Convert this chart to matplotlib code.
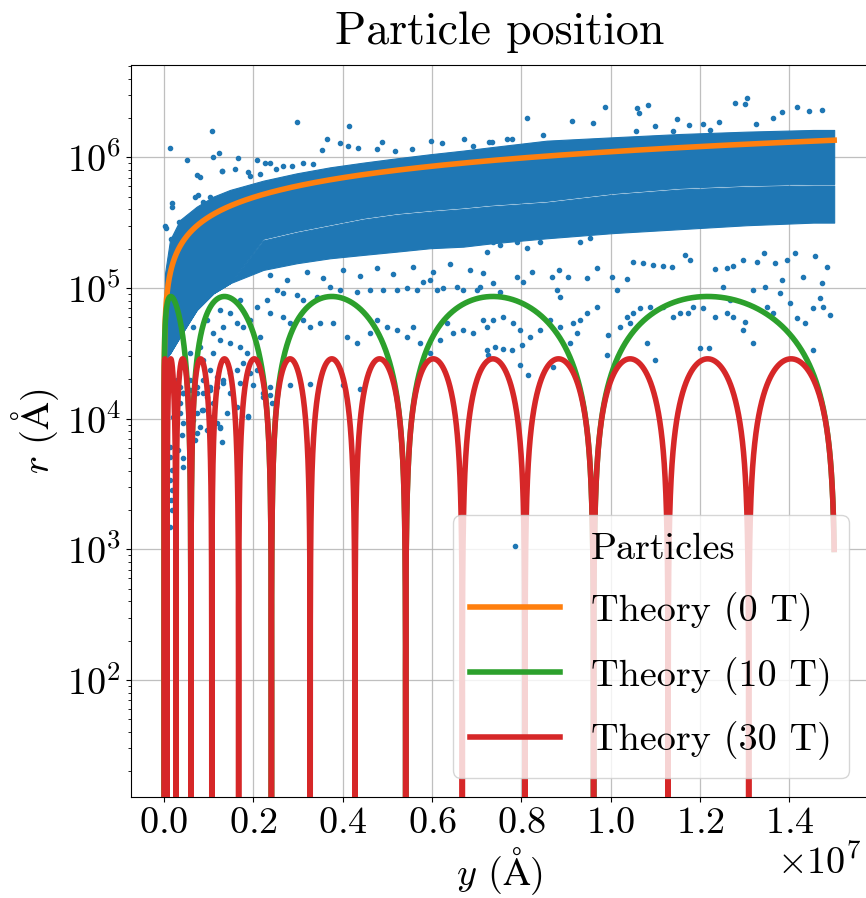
import numpy as np
import matplotlib
matplotlib.use("Agg")
import matplotlib.pyplot as plt

plt.rcParams.update({
    "font.family": "serif",
    "font.serif": ["cmr10"],
    "mathtext.fontset": "cm",
    "axes.formatter.use_mathtext": True,
    "axes.unicode_minus": False,
    "font.size": 27.5,
})

Y_UNIT = 1e7  # y values below are given in units of 1e7 Angstrom

# ---- dense part of the particle cloud (envelopes, log10 r) ----
band_y = [0.0005, 0.0022, 0.0134, 0.0358, 0.0731, 0.1104, 0.1477, 0.2223,
          0.2969, 0.3715, 0.4461, 0.5207, 0.5953, 0.6699, 0.7296, 0.8565,
          1.0057, 1.1549, 1.3041, 1.4533, 1.5]
band_upper_log = [4.75, 5.112, 5.367, 5.520, 5.622, 5.699, 5.750, 5.821,
                  5.877, 5.923, 5.959, 5.992, 6.023, 6.051, 6.076, 6.127,
                  6.153, 6.178, 6.196, 6.209, 6.209]
band_streak_log = [np.nan, np.nan, np.nan, np.nan, np.nan, np.nan, np.nan, 5.37,
                   5.43, 5.48, 5.53, 5.566, 5.59, 5.61, 5.63, 5.66,
                   5.72, 5.76, 5.78, 5.79, 5.79]
band_lower_log = [4.42, 4.45, 4.50, 4.628, 4.832, 4.959, 5.036, 5.138,
                  5.189, 5.227, 5.253, 5.278, 5.304, 5.316, 5.34, 5.38,
                  5.42, 5.45, 5.48, 5.50, 5.50]

# ---- individual (sparse) particles ----
particles_y = [
    0.0134, 0.0522, 0.1067, 0.1089, 0.1238, 0.0731, 0.0806, 0.0172, 0.0172, 0.0022,
    0.0045, 0.0343, 0.0470, 0.0157, 0.2969, 0.4148, 0.3640, 0.3939, 0.3543, 0.4125,
    0.4334, 0.4759, 0.4871, 0.5170, 0.5543, 0.5975, 0.6214, 0.6721, 0.6908, 0.7281,
    0.1663, 0.2074, 0.2260, 0.2372, 0.1589, 0.1291, 0.1887, 0.1925, 0.2148, 0.2499,
    0.2671, 0.2857, 0.3118, 0.3327, 0.0701, 0.0880, 0.1029, 0.0768, 0.1305,
    # below the band, left half
    0.2521, 0.2671, 0.2969, 0.3118, 0.3417, 0.3715, 0.3939, 0.4312, 0.4610, 0.4909,
    0.5207, 0.5431, 0.5655, 0.5804, 0.5953, 0.6102, 0.6251, 0.6550, 0.6699, 0.6997,
    0.7147, 0.2074, 0.2372, 0.2671, 0.2820, 0.3118, 0.3267, 0.3491, 0.3790, 0.4088,
    0.4312, 0.4610, 0.4759, 0.4983, 0.5207, 0.5431, 0.5580, 0.5729, 0.5953, 0.6177,
    0.6326, 0.6475, 0.6699, 0.6923, 0.7147, 0.7221,
    0.2372, 0.2745, 0.3193, 0.3566, 0.4013, 0.4386, 0.4759, 0.5132, 0.5580, 0.6028,
    0.6401, 0.6848,
    0.1253, 0.1477, 0.1626, 0.1775, 0.1104, 0.1253, 0.1477, 0.1701, 0.1850, 0.0880,
    0.1029, 0.1179, 0.1328, 0.1477, 0.1626, 0.1775, 0.1925, 0.2074, 0.0880, 0.1029,
    0.0731, 0.0955, 0.1104, 0.0843, 0.0656, 0.0806, 0.0955, 0.1253, 0.0209, 0.0358,
    0.0433, 0.0582, 0.1887, 0.2223, 0.2372, 0.1477, 0.1626,
    0.0507, 0.0656, 0.0955, 0.0806, 0.1328, 0.1925, 0.2148, 0.1701, 0.2298, 0.1104,
    0.0582, 0.0433, 0.0284, 0.0246, 0.1402, 0.0582,
    0.0358, 0.0433, 0.0582, 0.0731, 0.0880, 0.1029, 0.1179, 0.1328, 0.1701, 0.1999,
    0.2820, 0.3267, 0.4013, 0.4386, 0.2223, 0.2372, 0.2410, 0.1887, 0.0358, 0.0433,
    0.0731, 0.0880, 0.1029, 0.1179, 0.1253, 0.1291, 0.0694, 0.0731, 0.0395, 0.0433,
    0.0433, 0.0321, 0.0134, 0.0134, 0.0172, 0.0134, 0.0172, 0.0149, 0.0172, 0.0134,
    # right half, above the band
    0.8117, 0.9125, 0.9609, 0.9871, 1.0579, 1.0639, 1.0840, 1.0990, 1.1475, 1.1758,
    1.2056, 1.2422, 1.2780, 1.3004, 1.3041, 1.3250, 1.3623, 1.3824, 1.4175, 1.4444,
    1.4734, 1.0557, 1.1400, 1.2220, 0.7670, 0.7782, 0.7334, 0.8490,
    # right half, below the band
    0.7222, 0.7371, 0.7521, 0.7894, 0.8117, 0.8416, 0.9311, 0.9535, 1.0505, 1.0729,
    1.0952, 1.1176, 1.1363, 1.1661, 1.1773, 1.2332, 1.2595, 1.2744, 1.2967, 1.3265,
    1.3429, 1.3675, 1.3936, 1.4123, 1.4570, 1.4832, 1.3824, 1.4309, 1.4719, 0.7073,
    0.7371, 0.7521, 0.7894, 0.8043, 0.8229, 0.8677, 0.8848, 0.9050, 0.9460, 0.9684,
    1.0020, 1.0355, 1.0132, 0.8804, 0.8863, 1.3190, 1.3451, 1.4011, 1.4682, 1.4533,
    1.4757, 1.4906, 1.4175, 1.4347, 1.4533, 1.3175, 1.2967, 1.3004, 1.2595, 1.2744,
    1.2332, 1.2071, 1.1997, 1.2206, 1.1400, 1.1549, 1.1736, 1.1176, 1.0878, 1.0654,
    1.0505, 1.0355, 1.0430, 1.0206, 0.9945, 1.0990, 1.0803, 0.9908, 0.9684, 0.9460,
    0.9311, 0.9162, 0.9236, 0.9087, 0.8863, 0.8640, 0.8416, 0.8192, 0.7968, 0.7819,
    0.7595, 0.7371, 0.7222, 0.7409, 0.7595, 0.7782, 0.7259, 0.7968, 0.8155, 0.8714,
    0.8006, 1.2519, 1.2668, 1.1848, 1.3638, 1.3787, 1.3489,
]
particles_logr = [
    6.074, 5.979, 6.201, 6.005, 6.031, 5.865, 5.847, 5.653, 5.623, 5.477,
    5.457, 5.503, 5.515, 5.373, 6.268, 6.240, 6.140, 6.110, 6.056, 6.087,
    6.069, 6.061, 6.115, 6.048, 6.061, 6.125, 6.107, 6.140, 6.089, 6.120,
    5.992, 5.979, 5.959, 5.959, 5.911, 5.895, 5.890, 5.857, 5.870, 5.908,
    5.934, 5.934, 5.954, 5.949, 5.699, 5.661, 5.699, 5.712, 5.895,
    4.985, 4.959, 4.947, 4.908, 4.934, 5.010, 4.985, 4.972, 4.985, 4.985,
    4.985, 4.998, 4.985, 5.049, 5.061, 4.985, 4.998, 5.010, 4.985, 4.985,
    5.112, 4.857, 4.806, 4.781, 4.730, 4.755, 4.704, 4.730, 4.730, 4.628,
    4.577, 4.653, 4.755, 4.704, 4.679, 4.628, 4.704, 4.577, 4.500, 4.602,
    4.730, 4.653, 4.679, 4.653, 4.755, 4.526,
    5.10, 5.06, 5.12, 5.08, 5.14, 5.09, 5.15, 5.11, 5.16, 5.12,
    5.18, 5.14,
    4.832, 4.806, 4.730, 4.704, 4.653, 4.602, 4.577, 4.551, 4.500, 4.449,
    4.373, 4.322, 4.296, 4.347, 4.373, 4.424, 4.347, 4.373, 4.296, 4.245,
    4.194, 4.169, 4.118, 4.067, 3.991, 3.939, 3.914, 3.939, 4.016, 4.118,
    4.194, 4.296, 4.016, 4.194, 4.245, 4.194, 4.092,
    4.806, 4.704, 4.755, 4.551, 4.704, 4.755, 4.628, 4.908, 4.908, 4.500,
    4.500, 4.398, 4.296, 4.194, 4.041, 4.092,
    4.245, 4.194, 4.220, 4.245, 4.194, 4.220, 4.245, 4.271, 4.271, 4.258,
    4.258, 4.266, 4.258, 4.225, 4.169, 4.181, 4.123, 4.021, 4.041, 3.965,
    4.041, 4.067, 4.016, 3.965, 3.926, 3.824, 3.837, 3.888, 3.875, 3.697,
    3.633, 3.761, 3.786, 3.710, 3.608, 3.531, 3.455, 3.378, 3.302, 3.174,
    6.298, 6.280, 6.265, 6.387, 6.380, 6.336, 6.400, 6.242, 6.293, 6.245,
    6.252, 6.270, 6.413, 6.405, 6.456, 6.252, 6.298, 6.349, 6.387, 6.357,
    6.362, 6.201, 6.204, 6.209, 6.140, 6.140, 6.120, 6.171,
    5.278, 5.355, 5.329, 5.355, 5.304, 5.355, 5.355, 5.380, 5.202, 5.189,
    5.176, 5.169, 5.158, 5.253, 5.215, 5.143, 5.151, 5.169, 5.215, 5.202,
    5.271, 5.189, 5.215, 5.265, 5.248, 5.164, 5.061, 5.087, 5.041, 5.010,
    5.036, 4.972, 5.087, 5.049, 5.125, 5.087, 5.138, 5.087, 5.074, 5.151,
    5.082, 5.067, 4.985, 4.985, 4.934, 4.985, 5.010, 4.883, 4.921, 4.845,
    4.857, 4.794, 4.768, 4.730, 4.526, 4.582, 4.679, 4.743, 4.806, 4.781,
    4.781, 4.845, 4.539, 4.539, 4.781, 4.806, 4.806, 4.857, 4.857, 4.845,
    4.806, 4.781, 4.730, 4.704, 4.641, 4.449, 4.577, 4.488, 4.857, 4.806,
    4.755, 4.730, 4.653, 4.577, 4.704, 4.755, 4.679, 4.628, 4.679, 4.730,
    4.781, 4.755, 4.704, 4.551, 4.531, 4.526, 4.488, 4.411, 4.335, 4.398,
    4.564, 5.010, 4.908, 4.857, 4.806, 4.959, 4.857,
]

# ---- theory parameters ----
theory_coef = 1.103e6      # r(0 T) at y = 1e7 Angstrom (r grows as sqrt(y))
period_30T = 0.08171        # arch period in sqrt(y / 1e7)
period_10T = 3 * period_30T
y_max = 1.5                 # end of the simulated range (1e7 Angstrom)

labels = ["Particles", "Theory (0 T)", "Theory (10 T)", "Theory (30 T)"]

fig = plt.figure(figsize=(8.66, 8.98), dpi=100)
ax = fig.add_axes([0.1513, 0.1128, 0.8510, 0.8148])
ax.set_yscale("log")
ax.grid(True, color="#b0b0b0", linewidth=0.9, alpha=0.8)
ax.set_axisbelow(True)

by = np.array(band_y) * Y_UNIT
up = 10 ** np.array(band_upper_log)
lo = 10 ** np.array(band_lower_log)
st = np.array(band_streak_log)
gap = 0.012
has_streak = ~np.isnan(st)
st_hi = np.where(has_streak, 10 ** (np.nan_to_num(st, nan=0) + gap / 2), lo)
st_lo = np.where(has_streak, 10 ** (np.nan_to_num(st, nan=0) - gap / 2), lo)
ax.fill_between(by, st_hi, up, color="C0", linewidth=0.8, edgecolor="C0", zorder=2)
ax.fill_between(by, lo, st_lo, color="C0", linewidth=0.8, edgecolor="C0", zorder=2)

ax.plot(np.array(particles_y) * Y_UNIT, 10 ** np.array(particles_logr), ".",
        color="C0", label=labels[0], zorder=2)

s = np.linspace(0, np.sqrt(y_max), 200001)
yy = s ** 2 * Y_UNIT
r0 = theory_coef * s
r10 = theory_coef * period_10T / np.pi * np.abs(np.sin(np.pi * s / period_10T))
r30 = theory_coef * period_30T / np.pi * np.abs(np.sin(np.pi * s / period_30T))
ax.plot(yy, r0, color="C1", lw=4, label=labels[1], zorder=3)
ax.plot(yy, r10, color="C2", lw=4, label=labels[2], zorder=3)
ax.plot(yy, r30, color="C3", lw=4, label=labels[3], zorder=3)

ax.set_xlim(-0.0739 * Y_UNIT, 1.5757 * Y_UNIT)
ax.set_ylim(12.8, 5.08e6)
ax.set_xticks(np.arange(0, 1.41, 0.2) * Y_UNIT)
ax.xaxis.get_offset_text().set_x(0.992)
ax.set_title("Particle position", pad=15)
ax.set_xlabel(r"$y$ ($\mathrm{\AA}$)")
ax.set_ylabel(r"$r$ ($\mathrm{\AA}$)")
ax.legend(loc="lower right", handlelength=2.35, labelspacing=0.68,
          borderpad=0.45)

fig.savefig("out.png", dpi=100)
